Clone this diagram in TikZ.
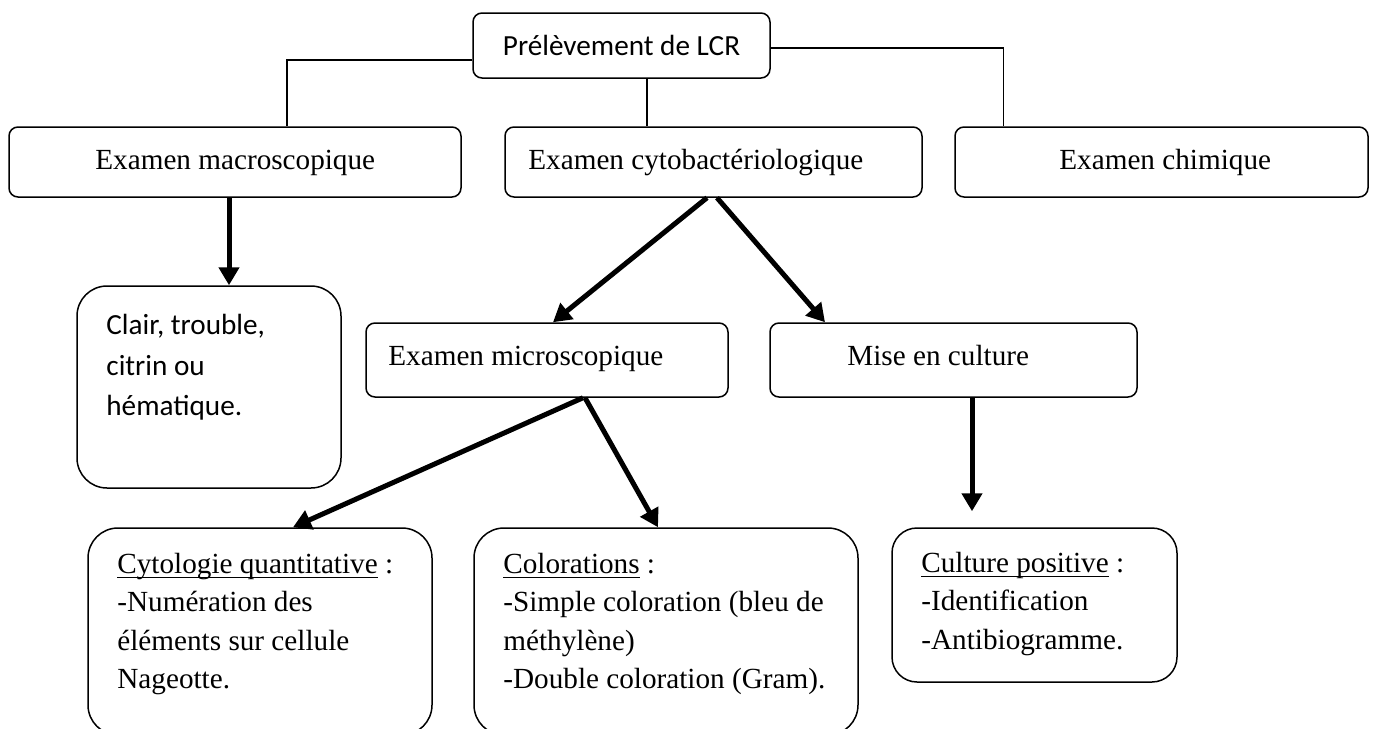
\documentclass[tikz,border=0pt]{standalone}
\usepackage{fontspec}
\setmainfont{Liberation Serif}
\newfontfamily\calib{Carlito}
\usetikzlibrary{arrows.meta}
\newcommand\wul[1]{\setbox0=\hbox{#1}\rlap{\rule[-2.5pt]{\wd0}{0.75pt}}\box0\relax}
\begin{document}
\begin{tikzpicture}[x=0.5pt,y=-0.5pt,
  box/.style={draw, line width=0.75pt, rounded corners=4.5pt, inner sep=0pt},
  bigbox/.style={draw, line width=0.75pt, rounded corners=15pt, inner sep=0pt},
  txt/.style={inner sep=0pt, anchor=base west, font=\fontsize{14.6pt}{17.5pt}\selectfont},
  link/.style={line width=0.75pt},
  arr/.style={line width=2.5pt, -{Triangle[length=9pt,width=10pt]}}
]
\useasboundingbox (0,0) rectangle (1373,729);
\clip (0,0) rectangle (1373,729);

% boxes
\node[box, minimum width=148.5pt, minimum height=32.5pt] (top) at (621.5,45.5) {};
\node[box, minimum width=226pt, minimum height=35pt] (macro) at (235,162) {};
\node[box, minimum width=208.5pt, minimum height=35pt] (cyto) at (713.5,162) {};
\node[box, minimum width=206.5pt, minimum height=35pt] (chim) at (1161.5,162) {};
\node[bigbox, minimum width=132pt, minimum height=101pt] (clair) at (209,387) {};
\node[box, minimum width=181pt, minimum height=37pt] (micro) at (547,360) {};
\node[box, minimum width=183.5pt, minimum height=37pt] (mise) at (953.5,360) {};
\node[bigbox, minimum width=172pt, minimum height=103.5pt] (cytol) at (260,631.5) {};
\node[bigbox, minimum width=192pt, minimum height=103.5pt] (color) at (666,631.5) {};
\node[bigbox, rounded corners=12.5pt, minimum width=142.5pt, minimum height=77pt] (cult) at (1034.5,605) {};

% texts
\node[txt, anchor=base, font=\fontsize{14.6pt}{17.5pt}\selectfont\calib] (ttop) at (621.5,55) {Prélèvement de LCR};
\node[txt] (tmacro) at (95,169) {Examen macroscopique};
\node[txt] (tcyto) at (528,169) {Examen cytobactériologique};
\node[txt] (tchim) at (1059,169) {Examen chimique};
\node[txt] (tmicro) at (388,365) {Examen microscopique};
\node[txt] (tmise) at (847,365) {Mise en culture};

\node[txt, font=\fontsize{14.6pt}{17.5pt}\selectfont\calib] (tcl1) at (106,334) {Clair, trouble,};
\node[txt, font=\fontsize{14.6pt}{17.5pt}\selectfont\calib] (tcl2) at (106,375) {citrin ou};
\node[txt, font=\fontsize{14.6pt}{17.5pt}\selectfont\calib] (tcl3) at (106,415) {hématique.};

\node[txt] (tcy1) at (117,573) {\wul{Cytologie quantitative} :};
\node[txt] (tcy2) at (117,611.5) {-Numération des};
\node[txt] (tcy3) at (117,650) {éléments sur cellule};
\node[txt] (tcy4) at (117,688) {Nageotte.};

\node[txt] (tco1) at (503,573) {\wul{Colorations} :};
\node[txt] (tco2) at (503,611.5) {-Simple coloration (bleu de};
\node[txt] (tco3) at (503,650) {méthylène)};
\node[txt] (tco4) at (503,688) {-Double coloration (Gram).};

\node[txt] (tcu1) at (921,572) {\wul{Culture positive} :};
\node[txt] (tcu2) at (921,610.5) {-Identification};
\node[txt] (tcu3) at (921,649) {-Antibiogramme.};

% thin connectors
\draw[link] ([yshift=-7.25pt]top.west) -| ([xshift=26pt]macro.north);
\draw[link] ([xshift=12.75pt]top.south) -- ([xshift=12.75pt]top.south |- cyto.north);
\draw[link] ([yshift=-1.25pt]top.east) -| ([xshift=-79pt]chim.north);

% thick arrows
\coordinate (cultin) at ([yshift=8pt]cult.north);
\draw[arr] ([xshift=-3pt]macro.south) -- ([xshift=-3pt]macro.south |- clair.north);
\draw[arr] ([xshift=-3.25pt]cyto.south) -- ([xshift=3pt]micro.north);
\draw[arr] ([xshift=1.75pt]cyto.south) -- ([xshift=-64.25pt]mise.north);
\draw[arr] ([xshift=18pt]micro.south) -- ([xshift=16.5pt]cytol.north);
\draw[arr] ([xshift=19pt]micro.south) -- ([xshift=-4pt]color.north);
\draw[arr] ([xshift=9.25pt]mise.south) -- ([xshift=9.25pt]mise.south |- cultin);
\end{tikzpicture}
\end{document}
